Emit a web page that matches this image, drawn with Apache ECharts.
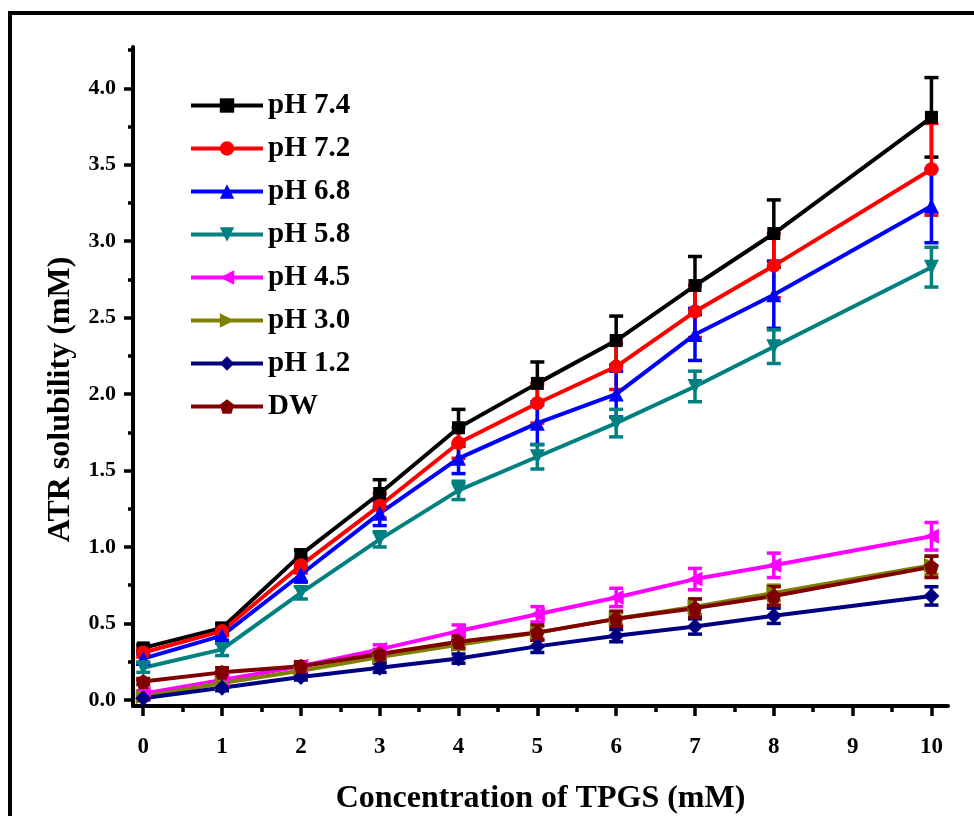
<!DOCTYPE html>
<html>
<head>
<meta charset="utf-8">
<script src="https://cdn.jsdelivr.net/npm/echarts@6/dist/echarts.min.js"></script>
<style>
html,body{margin:0;padding:0;background:#fff;}
#chart{width:974px;height:816px;}
</style>
</head>
<body>
<div id="chart"></div>
<script>
var xValues = [0, 1, 2, 3, 4, 5, 6, 7, 8, 10];
var seriesNames = ['pH 7.4', 'pH 7.2', 'pH 6.8', 'pH 5.8', 'pH 4.5', 'pH 3.0', 'pH 1.2', 'DW'];
var ph74 = [0.34, 0.47, 0.95, 1.35, 1.78, 2.07, 2.35, 2.71, 3.05, 3.81];
var ph72 = [0.31, 0.45, 0.88, 1.27, 1.68, 1.94, 2.18, 2.54, 2.84, 3.47];
var ph68 = [0.27, 0.42, 0.82, 1.22, 1.58, 1.81, 2.00, 2.39, 2.65, 3.23];
var ph58 = [0.21, 0.33, 0.70, 1.05, 1.37, 1.59, 1.81, 2.05, 2.31, 2.83];
var ph45 = [0.04, 0.13, 0.22, 0.33, 0.45, 0.56, 0.67, 0.79, 0.88, 1.07];
var ph30 = [0.02, 0.11, 0.19, 0.28, 0.36, 0.44, 0.53, 0.61, 0.70, 0.88];
var ph12 = [0.01, 0.08, 0.15, 0.21, 0.27, 0.35, 0.42, 0.48, 0.55, 0.68];
var dw   = [0.12, 0.18, 0.22, 0.30, 0.38, 0.44, 0.53, 0.60, 0.68, 0.87];
var err74 = [0.02, 0.03, 0.03, 0.09, 0.12, 0.14, 0.16, 0.19, 0.22, 0.26];
var err72 = [0.03, 0.03, 0.05, 0.08, 0.10, 0.13, 0.15, 0.17, 0.21, 0.30];
var err68 = [0.03, 0.03, 0.05, 0.08, 0.10, 0.14, 0.15, 0.17, 0.22, 0.24];
var err58 = [0.03, 0.04, 0.04, 0.05, 0.06, 0.08, 0.09, 0.10, 0.11, 0.13];
var err45 = [0.02, 0.02, 0.02, 0.03, 0.04, 0.05, 0.06, 0.07, 0.08, 0.09];
var err30 = [0.01, 0.02, 0.02, 0.03, 0.03, 0.04, 0.04, 0.05, 0.05, 0.06];
var err12 = [0.01, 0.02, 0.02, 0.03, 0.03, 0.04, 0.04, 0.05, 0.05, 0.06];
var errDW = [0.02, 0.03, 0.03, 0.03, 0.04, 0.05, 0.05, 0.06, 0.06, 0.07];
var xTickLabels = [0, 1, 2, 3, 4, 5, 6, 7, 8, 9, 10];
var xMinorTicks = [0.5, 1.5, 2.5, 3.5, 4.5, 5.5, 6.5, 7.5, 8.5, 9.5];
var yTickLabels = [0, 0.5, 1.0, 1.5, 2.0, 2.5, 3.0, 3.5, 4.0];
var yMinorTicks = [0.25, 0.75, 1.25, 1.75, 2.25, 2.75, 3.25, 3.75, 4.25];

var allValues = [ph74, ph72, ph68, ph58, ph45, ph30, ph12, dw];
var allErrors = [err74, err72, err68, err58, err45, err30, err12, errDW];
var colors = ['#000000', '#ff0000', '#0000ff', '#008080', '#ff00ff', '#808000', '#000080', '#800000'];
var pentagon = 'path://M0,-10 L9.51,-3.09 L5.88,8.09 L-5.88,8.09 L-9.51,-3.09 Z';
var symbols = ['rect', 'circle', 'triangle', 'triangle', 'triangle', 'triangle', 'diamond', pentagon];
var rotations = [0, 0, 0, 180, 90, -90, 0, 0];
var sizes = [13, 14, 15, 15, 15, 15, 16, 15];

var FONT = 'Liberation Serif';
var series = [];
for (var i = 0; i < seriesNames.length; i++) {
  (function (i) {
    var pts = xValues.map(function (x, k) { return [x, allValues[i][k]]; });
    var errPts = xValues.map(function (x, k) { return [x, allValues[i][k], allErrors[i][k]]; });
    series.push({
      type: 'custom',
      name: 'err' + i,
      xAxisIndex: 0, yAxisIndex: 0,
      data: errPts,
      silent: true,
      renderItem: function (params, api) {
        var x = api.value(0), y = api.value(1), e = api.value(2);
        var top = api.coord([x, y + e]);
        var bot = api.coord([x, y - e]);
        var hw = 7;
        var st = { stroke: colors[i], lineWidth: 3.5 };
        return {
          type: 'group',
          children: [
            { type: 'line', shape: { x1: top[0], y1: top[1], x2: bot[0], y2: bot[1] }, style: st },
            { type: 'line', shape: { x1: top[0] - hw, y1: top[1], x2: top[0] + hw, y2: top[1] }, style: st },
            { type: 'line', shape: { x1: bot[0] - hw, y1: bot[1], x2: bot[0] + hw, y2: bot[1] }, style: st }
          ]
        };
      }
    });
    series.push({
      type: 'line',
      name: seriesNames[i],
      xAxisIndex: 0, yAxisIndex: 0,
      data: pts,
      symbol: symbols[i],
      symbolRotate: rotations[i],
      symbolSize: sizes[i],
      showAllSymbol: true,
      lineStyle: { color: colors[i], width: 4 },
      itemStyle: { color: colors[i] },
      emphasis: { disabled: true }
    });
  })(i);
}

var chart = echarts.init(document.getElementById('chart'), null, { renderer: 'canvas' });
chart.setOption({
  animation: false,
  backgroundColor: '#ffffff',
  textStyle: { fontFamily: FONT },
  grid: { left: 133, right: 26, top: 47, bottom: 110, containLabel: false, outerBoundsMode: 'none' },
  graphic: [
    { type: 'rect', shape: { x: 10, y: 13, width: 1000, height: 900 }, style: { fill: null, stroke: '#000', lineWidth: 4 }, silent: true }
  ],
  legend: {
    data: seriesNames,
    orient: 'vertical',
    left: 184,
    top: 86,
    itemWidth: 72,
    itemHeight: 18,
    itemGap: 14,
    lineStyle: { width: 4 },
    textStyle: { fontFamily: FONT, fontWeight: 'bold', fontSize: 29, color: '#000' },
    selectedMode: false
  },
  xAxis: [
    {
      type: 'value', min: -0.13, max: 10.21,
      name: 'Concentration of TPGS (mM)', nameLocation: 'middle', nameGap: 77,
      nameTextStyle: { fontFamily: FONT, fontWeight: 'bold', fontSize: 32, color: '#000' },
      axisLine: { onZero: false, lineStyle: { color: '#000', width: 4 } },
      axisTick: { show: true, inside: false, length: 10, lineStyle: { width: 3.5, color: '#000' }, customValues: xTickLabels },
      axisLabel: { fontFamily: FONT, fontWeight: 'bold', fontSize: 23, color: '#000', margin: 30, customValues: xTickLabels, formatter: function (v) { return String(v); } },
      splitLine: { show: false }
    },
    {
      type: 'value', min: -0.13, max: 10.21, position: 'bottom',
      axisLine: { show: false, onZero: false },
      axisTick: { show: true, inside: false, length: 6, lineStyle: { width: 3.5, color: '#000' }, customValues: xMinorTicks },
      axisLabel: { show: false },
      splitLine: { show: false }
    }
  ],
  yAxis: [
    {
      type: 'value', min: -0.04, max: 4.27,
      name: 'ATR solubility (mM)', nameLocation: 'middle', nameGap: 56,
      nameTextStyle: { fontFamily: FONT, fontWeight: 'bold', fontSize: 32, color: '#000', padding: [0, 46, 0, 0] },
      axisLine: { onZero: false, lineStyle: { color: '#000', width: 4 } },
      axisTick: { show: true, inside: false, length: 9, lineStyle: { width: 3.5, color: '#000' }, customValues: yTickLabels },
      axisLabel: { fontFamily: FONT, fontWeight: 'bold', fontSize: 22, color: '#000', margin: 17, customValues: yTickLabels, formatter: function (v) { return v.toFixed(1); } },
      splitLine: { show: false }
    },
    {
      type: 'value', min: -0.04, max: 4.27, position: 'left',
      axisLine: { show: false, onZero: false },
      axisTick: { show: true, inside: false, length: 5, lineStyle: { width: 3.5, color: '#000' }, customValues: yMinorTicks },
      axisLabel: { show: false },
      splitLine: { show: false }
    }
  ],
  series: series
});
</script>
</body>
</html>
